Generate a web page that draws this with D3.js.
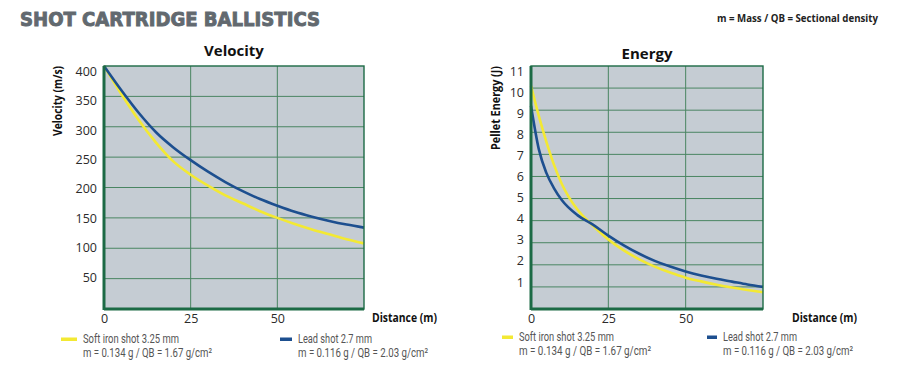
<!DOCTYPE html>
<html>
<head>
<meta charset="utf-8">
<script src="https://cdn.jsdelivr.net/npm/d3@7"></script>
<style>
  body { margin: 0; background: #fff; }
  svg { display: block; }
  text { font-family: "Open Sans", "Noto Sans", sans-serif; }
</style>
</head>
<body>
<svg id="chart" width="900" height="375"></svg>
<script>
// ---- data ----
const velDistance = [0, 5, 10, 15, 20, 25, 30, 35, 40, 45, 50, 55, 60, 65, 70, 75];
const velIron = [400, 354, 311, 274, 243, 221, 203, 187, 174, 161, 150, 140, 131, 123, 115, 108];
const velLead = [400, 360, 323, 291, 266, 245, 226, 209, 194, 181, 170, 160, 152, 145, 139, 134];

const enDistance = [0, 2.5, 5, 7.5, 10, 15, 20, 25, 30, 35, 40, 45, 50, 55, 60, 65, 70, 75];
const enIron = [10.1, 8.75, 7.55, 6.5, 5.65, 4.5, 3.78, 3.15, 2.65, 2.25, 1.92, 1.65, 1.42, 1.25, 1.1, 0.97, 0.86, 0.76];
const enLead = [9.2, 7.25, 6.15, 5.45, 4.92, 4.25, 3.82, 3.32, 2.88, 2.5, 2.18, 1.92, 1.7, 1.52, 1.37, 1.24, 1.11, 1.0];

const xTicks = [0, 25, 50];
const velTicks = [50, 100, 150, 200, 250, 300, 350, 400];
const enTicks = [1, 2, 3, 4, 5, 6, 7, 8, 9, 10, 11];

const seriesNames = ["Soft iron shot 3.25 mm", "Lead shot 2.7 mm"];
const seriesNotes = ["m = 0.134 g / QB = 1.67 g/cm\u00B2", "m = 0.116 g / QB = 2.03 g/cm\u00B2"];
const seriesColors = ["#f3e933", "#1d4f8f"];

const svg = d3.select("#chart");

// main heading
svg.append("text")
    .attr("x", 20).attr("y", 26)
    .attr("textLength", 300).attr("lengthAdjust", "spacingAndGlyphs")
    .style("font-family", "'DejaVu Sans', sans-serif")
    .style("font-weight", "bold")
    .style("font-size", "19px")
    .attr("fill", "#62696f")
    .attr("stroke", "#62696f").attr("stroke-width", 0.9)
    .text("SHOT CARTRIDGE BALLISTICS");

svg.append("text")
    .attr("x", 878).attr("y", 22)
    .attr("text-anchor", "end")
    .style("font-weight", "bold")
    .style("font-size", "11px")
    .attr("textLength", 161).attr("lengthAdjust", "spacingAndGlyphs")
    .attr("fill", "#222")
    .text("m = Mass / QB = Sectional density");

function drawPanel(p) {
    const x = d3.scaleLinear().domain([0, 75]).range([p.left, p.right]);
    const y = d3.scaleLinear().domain(p.yDomain).range([309, 66]);
    // the printed tick numbers sit on a slightly tighter spacing than the grid
    const yLab = d3.scaleLinear().domain(p.labDomain).range(p.labRange);

    // title
    svg.append("text")
        .attr("x", p.titleX).attr("y", p.titleY)
        .attr("text-anchor", "middle")
        .style("font-weight", "bold").style("font-size", "15px")
        .attr("fill", "#111")
        .text(p.title);

    // plot background
    svg.append("rect")
        .attr("x", p.left).attr("y", y.range()[1])
        .attr("width", p.right - p.left).attr("height", y.range()[0] - y.range()[1])
        .attr("fill", "#c5ccd3");

    // grid lines
    svg.append("g").selectAll("line")
        .data(p.yTicks.filter(d => d < p.yDomain[1]))
        .join("line")
        .attr("x1", p.left).attr("x2", p.right)
        .attr("y1", d => y(d)).attr("y2", d => y(d))
        .attr("stroke", "#4a8562").attr("stroke-width", 1);
    svg.append("g").selectAll("line")
        .data(xTicks.filter(d => d > 0))
        .join("line")
        .attr("x1", d => x(d)).attr("x2", d => x(d))
        .attr("y1", y.range()[0]).attr("y2", y.range()[1])
        .attr("stroke", "#4a8562").attr("stroke-width", 1);

    // curves
    const line = d3.line()
        .x(d => x(d[0]))
        .y(d => y(d[1]))
        .curve(d3.curveMonotoneX);
    p.series.forEach((vals, i) => {
        svg.append("path")
            .datum(p.dist.map((d, j) => [d, vals[j]]))
            .attr("fill", "none")
            .attr("stroke", seriesColors[i])
            .attr("stroke-width", 2.6)
            .attr("d", line);
    });

    // frame
    svg.append("rect")
        .attr("x", p.left).attr("y", y.range()[1])
        .attr("width", p.right - p.left).attr("height", y.range()[0] - y.range()[1])
        .attr("fill", "none")
        .attr("stroke", "#1c6a45").attr("stroke-width", 1.4);
    svg.append("line")
        .attr("x1", p.left).attr("x2", p.left)
        .attr("y1", y.range()[1]).attr("y2", y.range()[0] + 1)
        .attr("stroke", "#1c6a45").attr("stroke-width", 3);
    svg.append("line")
        .attr("x1", p.left).attr("x2", p.right)
        .attr("y1", y.range()[0]).attr("y2", y.range()[0])
        .attr("stroke", "#1c6a45").attr("stroke-width", 3);

    // tick labels
    const yAxis = svg.append("g")
        .attr("transform", `translate(${p.left},0)`)
        .call(d3.axisLeft(yLab).tickValues(p.yTicks).tickSize(0).tickPadding(7));
    const xAxis = svg.append("g")
        .attr("transform", `translate(0,${y.range()[0]})`)
        .call(d3.axisBottom(x).tickValues(xTicks).tickSize(0).tickPadding(5));
    [xAxis, yAxis].forEach(a => {
        a.select(".domain").remove();
        a.selectAll("text")
            .style("font-family", "'Open Sans', sans-serif")
            .style("font-size", "12.5px")
            .attr("fill", "#2a2a2a");
    });

    // axis titles
    svg.append("text")
        .attr("transform", `translate(${p.yLabelX},${y.range()[1]}) rotate(-90)`)
        .attr("text-anchor", "end")
        .attr("textLength", p.yLabelLen).attr("lengthAdjust", "spacingAndGlyphs")
        .style("font-weight", "bold").style("font-size", "12px")
        .attr("fill", "#111")
        .text(p.yLabel);
    svg.append("text")
        .attr("x", p.xLabelX).attr("y", 322)
        .attr("textLength", 65).attr("lengthAdjust", "spacingAndGlyphs")
        .style("font-weight", "bold").style("font-size", "12.5px")
        .attr("fill", "#111")
        .text("Distance (m)");

    // legend
    p.legend.forEach((lg, i) => {
        svg.append("rect")
            .attr("x", lg.x).attr("y", lg.y - 5.5)
            .attr("width", lg.w).attr("height", 3.5)
            .attr("fill", seriesColors[i]);
        const tx = lg.x + lg.w + 6;
        [[seriesNames[i], lg.nameLen, 0], [seriesNotes[i], lg.noteLen, 14]].forEach(r => {
            svg.append("text")
                .attr("x", tx).attr("y", lg.y + r[2])
                .attr("textLength", r[1]).attr("lengthAdjust", "spacingAndGlyphs")
                .style("font-family", "'Roboto', sans-serif")
                .style("font-size", "12px")
                .attr("fill", "#555")
                .text(r[0]);
        });
    });
}

drawPanel({
    title: "Velocity", titleX: 234, titleY: 56,
    left: 104, right: 364,
    yDomain: [0, 400], yTicks: velTicks,
    labDomain: [50, 400], labRange: [277, 71.5],
    dist: velDistance, series: [velIron, velLead],
    yLabel: "Velocity (m/s)", yLabelX: 62, yLabelLen: 70,
    xLabelX: 372,
    legend: [{ x: 61, y: 343, w: 16, nameLen: 96, noteLen: 129 },
             { x: 280, y: 343, w: 12, nameLen: 74, noteLen: 130 }]
});

drawPanel({
    title: "Energy", titleX: 647, titleY: 59,
    left: 531, right: 763,
    yDomain: [0, 11], yTicks: enTicks,
    labDomain: [1, 11], labRange: [282, 71.5],
    dist: enDistance, series: [enIron, enLead],
    yLabel: "Pellet Energy (J)", yLabelX: 500, yLabelLen: 84,
    xLabelX: 792,
    legend: [{ x: 502, y: 341, w: 11, nameLen: 95, noteLen: 132 },
             { x: 707, y: 341, w: 10, nameLen: 74, noteLen: 130 }]
});
</script>
</body>
</html>
